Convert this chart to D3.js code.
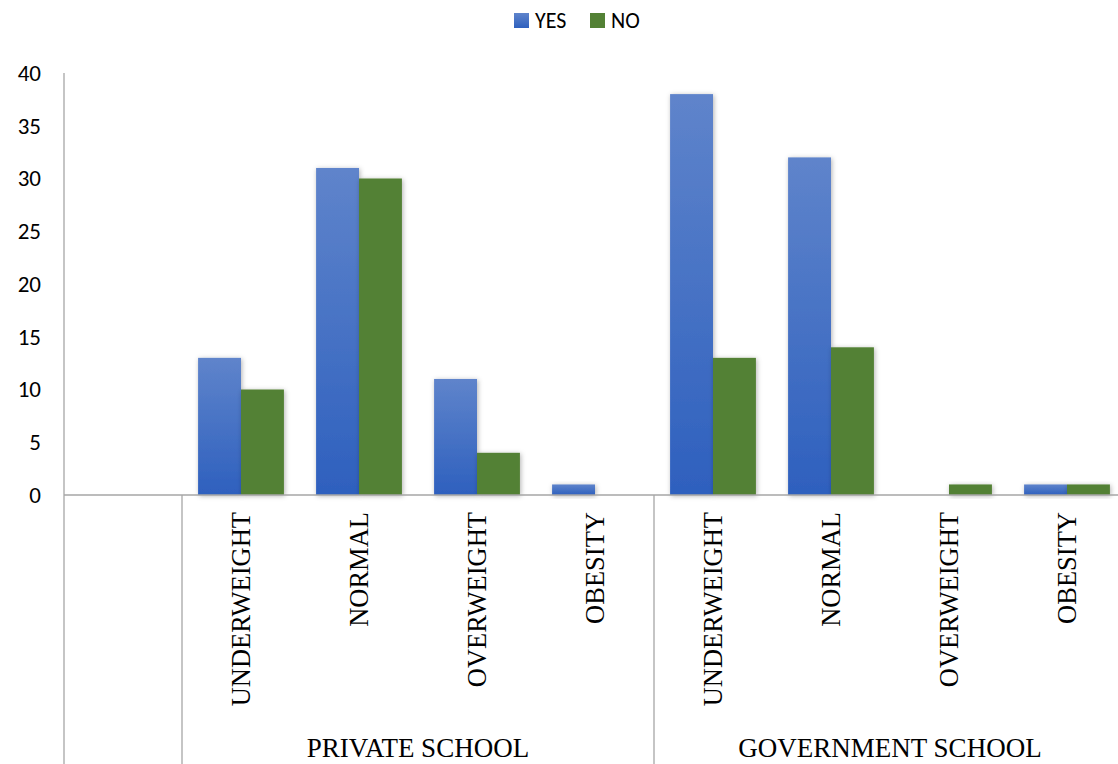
<!DOCTYPE html>
<html>
<head>
<meta charset="utf-8">
<script src="https://cdn.jsdelivr.net/npm/d3@7"></script>
<style>
  body { margin: 0; background: #fff; }
  svg { display: block; }
</style>
</head>
<body>
<svg id="chart" width="1118" height="764"></svg>
<script>
// BMI categories per school type, responses YES / NO
const schools = ["PRIVATE SCHOOL", "GOVERNMENT SCHOOL"];
const categories = ["UNDERWEIGHT", "NORMAL", "OVERWEIGHT", "OBESITY"];
const seriesNames = ["YES", "NO"];
const privateYes = [13, 31, 11, 1];
const privateNo = [10, 30, 4, 0];
const governmentYes = [38, 32, 0, 1];
const governmentNo = [13, 14, 1, 1];
const yTicks = [0, 5, 10, 15, 20, 25, 30, 35, 40];

const rows = [];
schools.forEach((s, si) => {
  const yes = si === 0 ? privateYes : governmentYes;
  const no = si === 0 ? privateNo : governmentNo;
  categories.forEach((c, ci) => {
    rows.push({ key: s + "|" + c, school: s, category: c, YES: yes[ci], NO: no[ci] });
  });
});

const svg = d3.select("#chart");
const left = 64, zeroY = 495, topY = 73, slotW = 118;
// one leading empty slot, then the eight category slots
const slotKeys = ["__lead"].concat(rows.map(r => r.key));

const x = d3.scaleBand().domain(slotKeys).range([left, left + slotW * slotKeys.length])
  .paddingInner(0).paddingOuter(0);
const barW = x.bandwidth() / 2.75;
const xs = d3.scaleBand().domain(seriesNames)
  .range([(x.bandwidth() - 2 * barW) / 2, (x.bandwidth() + 2 * barW) / 2]);
const y = d3.scaleLinear().domain([0, 40]).range([zeroY, topY]);

const defs = svg.append("defs");
const grad = defs.append("linearGradient").attr("id", "blueGrad")
  .attr("x1", 0).attr("y1", 0).attr("x2", 0).attr("y2", 1);
grad.append("stop").attr("offset", "0%").attr("stop-color", "#5f84cb");
grad.append("stop").attr("offset", "100%").attr("stop-color", "#2e60be");
const shadow = defs.append("filter").attr("id", "shadow")
  .attr("x", "-30%").attr("y", "-30%").attr("width", "160%").attr("height", "160%");
shadow.append("feDropShadow").attr("dx", 1).attr("dy", 1).attr("stdDeviation", 2.5)
  .attr("flood-color", "#000").attr("flood-opacity", 0.3);

const fill = { YES: "url(#blueGrad)", NO: "#538135" };
const axisColor = "#a6a6a6";
const sansFont = "Carlito, Lato, 'Open Sans', sans-serif";
const serifFont = "'Liberation Serif', 'Times New Roman', serif";

// Y axis labels
const yAxis = d3.axisLeft(y).tickValues(yTicks).tickSize(0).tickPadding(0);
const yg = svg.append("g").attr("transform", "translate(41,0)").call(yAxis);
yg.select(".domain").remove();
yg.selectAll("text").attr("font-family", sansFont)
  .attr("font-size", 23).attr("fill", "#000");

// bars
const groups = svg.append("g").selectAll("g").data(rows).join("g")
  .attr("transform", d => `translate(${x(d.key)},0)`);
groups.selectAll("rect").data(d => seriesNames.map(s => ({ s, v: d[s] })).filter(o => o.v > 0))
  .join("rect")
  .attr("x", o => xs(o.s))
  .attr("width", xs.bandwidth())
  .attr("y", o => y(o.v))
  .attr("height", o => y(0) - y(o.v))
  .attr("fill", o => fill[o.s])
  .attr("filter", "url(#shadow)");

// axes lines
svg.append("line").attr("x1", left).attr("x2", left).attr("y1", topY).attr("y2", 764)
  .attr("stroke", axisColor).attr("stroke-width", 1.3);
svg.append("line").attr("x1", left).attr("x2", x.range()[1]).attr("y1", zeroY).attr("y2", zeroY)
  .attr("stroke", axisColor).attr("stroke-width", 1.3);
// group separators
const groupStarts = schools.map(s => x(rows.find(r => r.school === s).key));
groupStarts.forEach(gx => {
  svg.append("line").attr("x1", gx).attr("x2", gx).attr("y1", zeroY).attr("y2", 764)
    .attr("stroke", axisColor).attr("stroke-width", 1.3);
});

// category labels (rotated)
svg.append("g").selectAll("text").data(rows).join("text")
  .attr("transform", d => `translate(${x(d.key) + x.bandwidth() / 2 + 9},512) rotate(-90)`)
  .attr("text-anchor", "end")
  .attr("font-family", serifFont)
  .attr("font-size", 26.5).attr("fill", "#000")
  .text(d => d.category);

// school labels
svg.append("g").selectAll("text").data(schools).join("text")
  .attr("x", (s, i) => groupStarts[i] + slotW * categories.length / 2)
  .attr("y", 757)
  .attr("text-anchor", "middle")
  .attr("font-family", serifFont)
  .attr("font-size", 27).attr("fill", "#000")
  .text(s => s);

// legend
const legend = svg.append("g").attr("transform", "translate(514,13)");
const legendItems = [{ s: "YES", x: 0 }, { s: "NO", x: 76 }];
legendItems.forEach(it => {
  legend.append("rect").attr("x", it.x).attr("y", 0).attr("width", 15).attr("height", 15)
    .attr("fill", fill[it.s]);
  legend.append("text").attr("x", it.x + 21).attr("y", 15)
    .attr("font-family", sansFont)
    .attr("font-size", 22).attr("fill", "#000").text(it.s);
});
</script>
</body>
</html>
